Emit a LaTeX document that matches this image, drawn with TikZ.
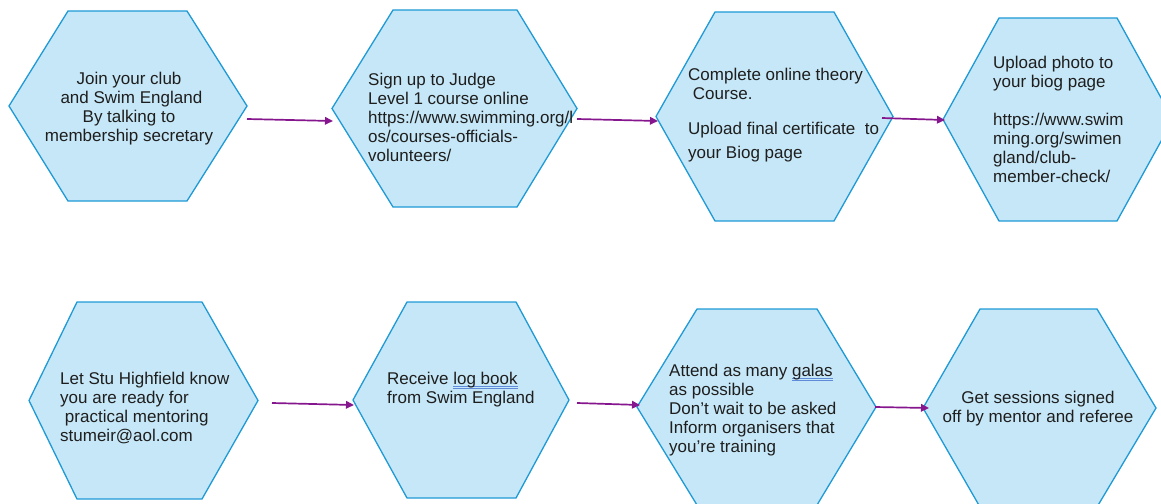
\documentclass[tikz,border=0pt]{standalone}
\usepackage{fontspec}
\setmainfont{Liberation Sans}
\usetikzlibrary{arrows.meta}
\definecolor{hexfill}{HTML}{C6E7F7}
\definecolor{hexline}{HTML}{1E9AD6}
\definecolor{arrowc}{HTML}{86168E}
\definecolor{txt}{HTML}{1E1E1E}
\definecolor{ulc}{HTML}{5F8BD8}
\newcommand\dul[1]{\setbox0\hbox{#1}\rlap{\color{ulc}\rule[-2.2pt]{\wd0}{0.7pt}\hspace{-\wd0}\rule[-3.9pt]{\wd0}{0.6pt}}\box0}
\newcommand\lsp{\hspace*{0.28em}}
\tikzset{
  hexbox/.style={draw=hexline, fill=hexfill, line width=1.3pt, line join=miter},
  flow/.style={draw=arrowc, line width=1.7pt, -{Triangle[length=8pt,width=7.5pt]}},
  lbl/.style={inner sep=0pt, text=txt, font=\fontsize{17}{19}\selectfont, align=left, anchor=north west},
  clbl/.style={inner sep=0pt, text=txt, font=\fontsize{17}{19}\selectfont, align=center, anchor=north},
}
% name, L, tl, tr, R, top, bottom
\newcommand\hexat[7]{%
  \path[hexbox] (#2,{(#6+#7)/2}) coordinate (#1-w) -- (#3,#6) -- (#4,#6)
     -- (#5,{(#6+#7)/2}) coordinate (#1-e) -- (#4,#7) -- (#3,#7) -- cycle;}
\begin{document}
\begin{tikzpicture}[x=1pt,y=-1pt]
\useasboundingbox (0,0) rectangle (1161,503);
\clip (0,0) rectangle (1161,503);

% top row
\hexat{h1}{9}{68}{187}{247}{11}{201}
\hexat{h2}{332}{393}{517}{577}{10}{207}
\hexat{h3}{656}{715}{834}{893}{12}{221}
\hexat{h4}{943}{999}{1117}{1173}{18}{221}
% bottom row
\hexat{h5}{29}{77}{202}{258}{302}{499}
\hexat{h6}{353}{407}{516}{569}{302}{498}
\hexat{h7}{637}{697}{817}{876}{309}{505}
\hexat{h8}{923}{980}{1097}{1156}{309}{507}

% texts
\node[clbl] (t1) at (129,72) {Join your club\\\lsp and Swim England\\By talking to\\membership secretary};
\node[lbl] (t2) at (368,73) {Sign up to Judge\\Level 1 course online\\https://www.swimming.org/l\\os/courses-officials-\\volunteers/};
\node[lbl] (t3a) at (688,68) {Complete online theory\\\lsp Course.};
\node[lbl,font=\fontsize{17}{24}\selectfont] (t3b) at (688,122) {Upload final certificate\ \ to\\your Biog page};
\node[lbl] (t4) at (993,56) {Upload photo to\\your biog page\\[19pt]https://www.swim\\ming.org/swimen\\gland/club-\\member-check/};
\node[lbl] (t5) at (60,372) {Let Stu Highfield know\\you are ready for\\\lsp practical mentoring\\stumeir@aol.com};
\node[lbl] (t6) at (387,372) {Receive \dul{log book}\\from Swim England};
\node[lbl] (t7) at (669,364) {Attend as many \dul{galas}\\as possible\\Don’t wait to be asked\\Inform organisers that\\you’re training};
\node[clbl] (t8) at (1038,391) {Get sessions signed\\off by mentor and referee};

% connector end points (the arrows run level, just below the vertices)
\coordinate (a1s) at (247,119);  \coordinate (a1e) at (333,121);
\coordinate (a2s) at (577,119);  \coordinate (a2e) at (658,121);
\coordinate (a3s) at (882,118);  \coordinate (a3e) at (945,120);
\coordinate (a4s) at (272,403);  \coordinate (a4e) at (354,405);
\coordinate (a5s) at (577,403);  \coordinate (a5e) at (640,405);
\coordinate (a6s) at (875,407);  \coordinate (a6e) at (929,408);
\draw[flow] (a1s) -- (a1e);
\draw[flow] (a2s) -- (a2e);
\draw[flow] (a3s) -- (a3e);
\draw[flow] (a4s) -- (a4e);
\draw[flow] (a5s) -- (a5e);
\draw[flow] (a6s) -- (a6e);
\end{tikzpicture}
\end{document}
